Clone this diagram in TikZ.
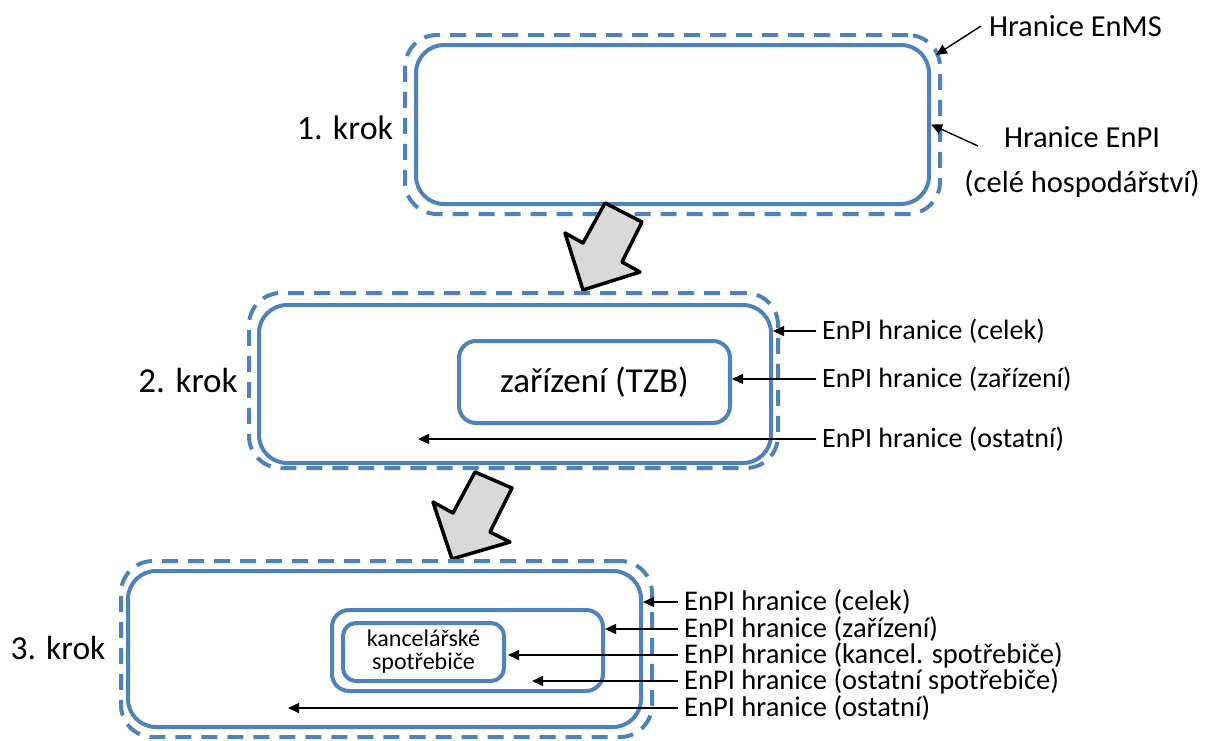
\documentclass[tikz,border=0pt]{standalone}
\usepackage{fontspec}
\setmainfont{Carlito}
\usetikzlibrary{arrows.meta}
\definecolor{myblue}{RGB}{79,129,189}
\definecolor{arrgray}{RGB}{217,217,217}
\begin{document}
\begin{tikzpicture}[x=1pt,y=-1pt,
  solidbox/.style={draw=myblue, line width=4pt, rounded corners=28pt, inner sep=0pt},
  dashbox/.style={draw=myblue, line width=4pt, dash pattern=on 16pt off 10pt, rounded corners=32pt, inner sep=0pt},
  smallbox/.style={draw=myblue, line width=4pt, rounded corners=17pt, inner sep=0pt},
  lbl/.style={anchor=west, inner xsep=6pt, inner ysep=0pt, text=black},
  pointer/.style={-{Triangle[length=11pt,width=10pt]}, line width=1.4pt, draw=black},
  bigarrow/.style={draw=black, fill=arrgray, line width=3.5pt, line join=round}]
\useasboundingbox (0,0) rectangle (1205,740);

% ---------- step 1 ----------
\node[dashbox, minimum width=535, minimum height=179] (s1o) at (672.5,124.5) {};
\node[solidbox, minimum width=513, minimum height=159] (s1i) at (672.5,124.5) {};
\node[font=\fontsize{34}{40}\selectfont] (k1) at (345,128) {1. krok};
\node[lbl, inner xsep=8pt, font=\fontsize{30.5}{36}\selectfont] (enms) at (981,26) {Hranice EnMS};
\node[align=center, font=\fontsize{30.5}{45}\selectfont] (enpi) at (1082,162) {Hranice EnPI\\(celé hospodářství)};
\coordinate (t1) at (936,55);
\coordinate (c1) at (978,146);
\draw[pointer] (enms.west) -- (t1);
\draw[pointer] (c1) -- (s1i.east);

% big arrow 1 -> 2
\draw[bigarrow] (605,203) -- (642,222) -- (622,262) -- (640,272) -- (583,290) -- (565,233) -- (583,243) -- cycle;

% ---------- step 2 ----------
\node[dashbox, minimum width=529, minimum height=175] (s2o) at (513.5,380.5) {};
\node[solidbox, minimum width=512, minimum height=158] (s2i) at (515,384) {};
\node[smallbox, minimum width=271, minimum height=82, font=\fontsize{35}{40}\selectfont] (tzb) at (594.5,382) {zařízení (TZB)};
\node[font=\fontsize{35}{40}\selectfont] (k2) at (188,380) {2. krok};
\node[lbl, font=\fontsize{28}{33}\selectfont] (l2a) at (816,331) {EnPI hranice (celek)};
\node[lbl, font=\fontsize{28}{33}\selectfont] (l2b) at (816,379) {EnPI hranice (zařízení)};
\node[lbl, font=\fontsize{28}{33}\selectfont] (l2c) at (816,439) {EnPI hranice (ostatní)};
\coordinate (t2c) at (418,439);
\draw[pointer] (l2a.west) -- (l2a.west -| s2i.east);
\draw[pointer] (l2b.west) -- (l2b.west -| tzb.east);
\draw[pointer] (l2c.west) -- (t2c);

% big arrow 2 -> 3
\draw[bigarrow] (475,472) -- (512,488) -- (490,532) -- (510,542) -- (452,559) -- (433,502) -- (453,513) -- cycle;

% ---------- step 3 ----------
\node[dashbox, minimum width=531, minimum height=176] (s3o) at (386.5,649) {};
\node[solidbox, minimum width=513, minimum height=156] (s3i) at (384.5,649) {};
\node[smallbox, minimum width=271, minimum height=81] (dev) at (467.5,650.5) {};
\node[smallbox, rounded corners=13pt, minimum width=161, minimum height=58, align=center, font=\fontsize{24}{23}\selectfont] (kanc) at (423.5,652) {kancelářské\\spotřebiče};
\node[font=\fontsize{33.5}{40}\selectfont] (k3) at (58,648) {3. krok};
\node[lbl, font=\fontsize{28.5}{33}\selectfont] (l3a) at (678,602) {EnPI hranice (celek)};
\node[lbl, font=\fontsize{28.5}{33}\selectfont] (l3b) at (678,629) {EnPI hranice (zařízení)};
\node[lbl, font=\fontsize{28.5}{33}\selectfont] (l3c) at (678,655) {EnPI hranice (kancel. spotřebiče)};
\node[lbl, font=\fontsize{28.5}{33}\selectfont] (l3d) at (678,681) {EnPI hranice (ostatní spotřebiče)};
\node[lbl, font=\fontsize{28.5}{33}\selectfont] (l3e) at (678,708) {EnPI hranice (ostatní)};
\coordinate (t3c) at (508,655);
\coordinate (t3d) at (532,681);
\coordinate (t3e) at (288,708);
\draw[pointer] (l3a.west) -- (l3a.west -| s3i.east);
\draw[pointer] (l3b.west) -- (l3b.west -| dev.east);
\draw[pointer] (l3c.west) -- (t3c);
\draw[pointer] (l3d.west) -- (t3d);
\draw[pointer] (l3e.west) -- (t3e);
\end{tikzpicture}
\end{document}
